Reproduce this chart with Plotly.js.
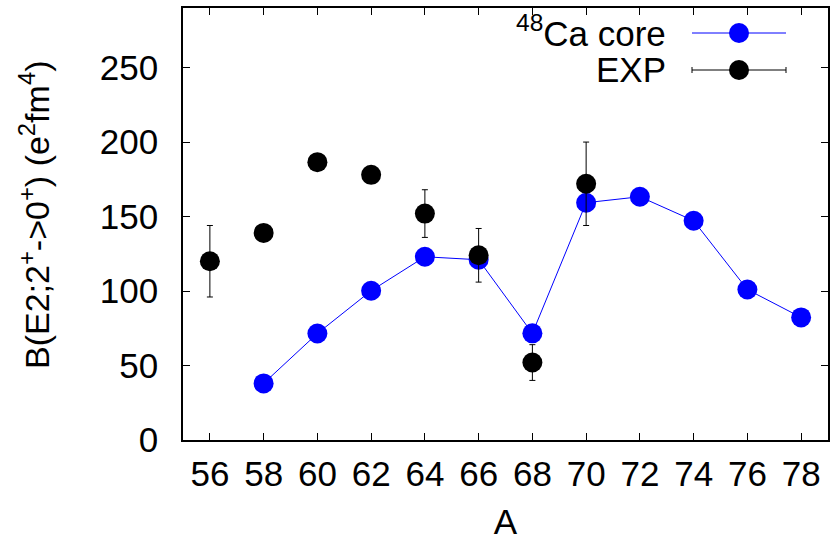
<!DOCTYPE html>
<html>
<head>
<meta charset="utf-8">
<script src="https://cdn.plot.ly/plotly-3.0.1.min.js"></script>
<style>html,body{margin:0;padding:0;background:#fff;}#chart{width:830px;height:544px;}</style>
</head>
<body>
<div id="chart"></div>
<script>
// Data
var caA = [58, 60, 62, 64, 66, 68, 70, 72, 74, 76, 78];
var caB = [38, 71.5, 100.2, 123, 121, 71.6, 159.3, 163.3, 147.2, 101, 82.3];
var expA = [56, 58, 60, 62, 64, 66, 68, 70];
var expB = [120, 139, 186.5, 178, 152, 124, 52, 172];
var expErr = [24, 0, 0, 0, 16, 18, 12, 28];
var xTicks = [56, 58, 60, 62, 64, 66, 68, 70, 72, 74, 76, 78];
var yTicks = [0, 50, 100, 150, 200, 250];

var FONT = 'Liberation Sans, Arial, Helvetica, sans-serif';
var FS = 35;

var traces = [
  {
    x: caA, y: caB, type: 'scatter', mode: 'lines+markers', name: '48Ca core',
    line: {color: '#0000ff', width: 1},
    marker: {color: '#0000ff', size: 20},
    showlegend: false, cliponaxis: false
  },
  {
    x: expA, y: expB, type: 'scatter', mode: 'markers', name: 'EXP',
    marker: {color: '#000000', size: 20},
    error_y: {type: 'data', array: expErr, visible: true, color: '#000000', thickness: 1, width: 3},
    showlegend: false, cliponaxis: false
  }
];

// legend geometry helpers (pixel -> paper)
var L = 183, R = 828, T = 8, B = 440;
function px(x) { return (x - L) / (R - L); }
function py(y) { return (B - y) / (B - T); }

var shapes = [
  {type: 'line', xref: 'paper', yref: 'paper', x0: px(692), x1: px(786), y0: py(33), y1: py(33), line: {color: '#0000ff', width: 1}},
  {type: 'circle', xref: 'paper', yref: 'paper', xsizemode: 'pixel', ysizemode: 'pixel', xanchor: px(739), yanchor: py(33), x0: -10, x1: 10, y0: -10, y1: 10, fillcolor: '#0000ff', line: {width: 0}},
  {type: 'line', xref: 'paper', yref: 'paper', x0: px(692), x1: px(786), y0: py(70), y1: py(70), line: {color: '#000000', width: 1}},
  {type: 'line', xref: 'paper', yref: 'paper', xsizemode: 'pixel', ysizemode: 'pixel', xanchor: px(692), yanchor: py(70), x0: 0, x1: 0, y0: -3, y1: 3, line: {color: '#000000', width: 1}},
  {type: 'line', xref: 'paper', yref: 'paper', xsizemode: 'pixel', ysizemode: 'pixel', xanchor: px(786), yanchor: py(70), x0: 0, x1: 0, y0: -3, y1: 3, line: {color: '#000000', width: 1}},
  {type: 'circle', xref: 'paper', yref: 'paper', xsizemode: 'pixel', ysizemode: 'pixel', xanchor: px(739), yanchor: py(70), x0: -10, x1: 10, y0: -10, y1: 10, fillcolor: '#000000', line: {width: 0}}
];

var annotations = [
  {xref: 'paper', yref: 'paper', x: px(668), y: py(31), xanchor: 'right', yanchor: 'middle', showarrow: false,
   text: '<sup>48</sup>Ca core', font: {family: FONT, size: FS, color: '#000'}},
  {xref: 'paper', yref: 'paper', x: px(668), y: py(69), xanchor: 'right', yanchor: 'middle', showarrow: false,
   text: 'EXP', font: {family: FONT, size: FS, color: '#000'}},
  {xref: 'paper', yref: 'paper', x: px(35), y: py(215), xanchor: 'center', yanchor: 'middle', showarrow: false,
   textangle: -90,
   text: 'B(E2;2<sup>+</sup>->0<sup>+</sup>) (e<sup>2</sup>fm<sup>4</sup>)', font: {family: FONT, size: 34, color: '#000'}}
];

var layout = {
  width: 830, height: 544,
  margin: {l: L, r: 830 - R, t: T, b: 544 - B},
  paper_bgcolor: '#fff', plot_bgcolor: '#fff',
  font: {family: FONT, size: FS, color: '#000'},
  showlegend: false,
  xaxis: {
    range: [55, 79], tickvals: xTicks, ticktext: xTicks.map(String),
    ticks: 'inside', ticklen: 7, tickwidth: 1, tickcolor: '#000',
    showline: true, linecolor: '#000', linewidth: 1.5, mirror: 'ticks',
    showgrid: false, zeroline: false,
    tickfont: {family: FONT, size: FS, color: '#000'},
    ticklabelstandoff: 2,
    title: {text: 'A', font: {family: FONT, size: FS, color: '#000'}, standoff: 18}
  },
  yaxis: {
    range: [0, 290], tickvals: yTicks, ticktext: yTicks.map(String),
    ticks: 'inside', ticklen: 7, tickwidth: 1, tickcolor: '#000',
    showline: true, linecolor: '#000', linewidth: 1.5, mirror: 'ticks',
    showgrid: false, zeroline: false,
    tickfont: {family: FONT, size: FS, color: '#000'},
    ticklabelstandoff: 16
  },
  shapes: shapes,
  annotations: annotations
};

Plotly.newPlot('chart', traces, layout, {displayModeBar: false});
</script>
</body>
</html>
